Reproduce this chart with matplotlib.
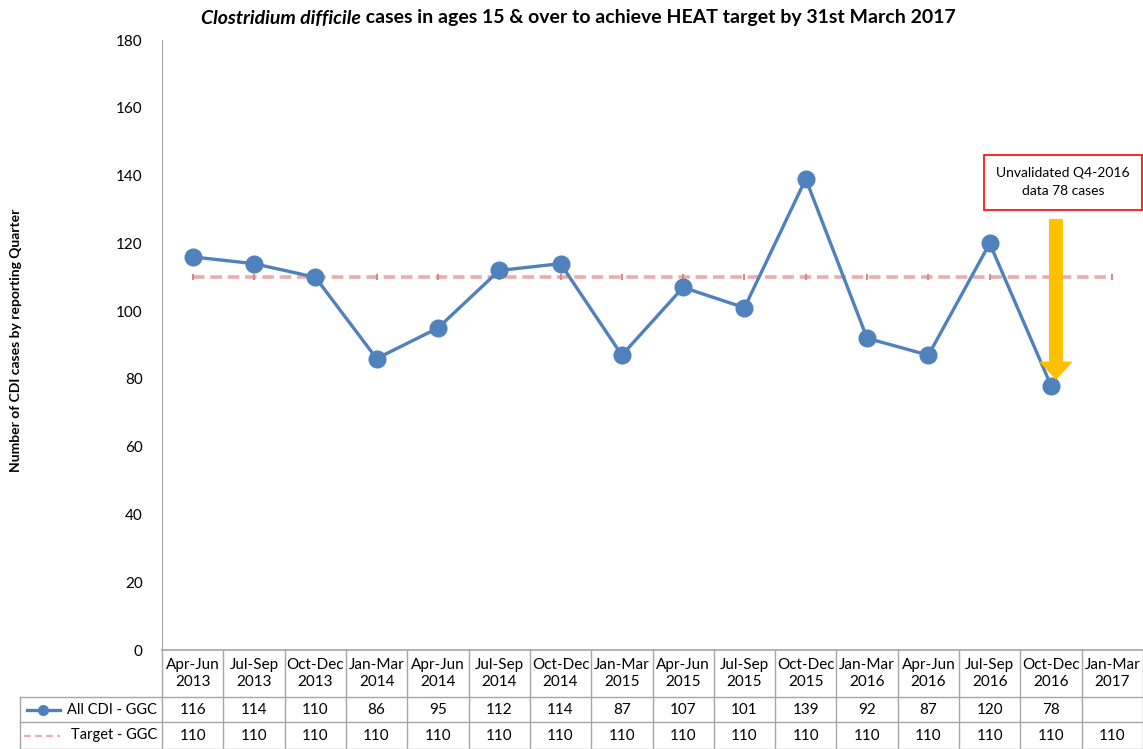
import matplotlib.pyplot as plt
import numpy as np

plt.rcParams['font.family'] = ['Lato', 'DejaVu Sans']

quarters = ['Apr-Jun\n2013', 'Jul-Sep\n2013', 'Oct-Dec\n2013', 'Jan-Mar\n2014',
            'Apr-Jun\n2014', 'Jul-Sep\n2014', 'Oct-Dec\n2014', 'Jan-Mar\n2015',
            'Apr-Jun\n2015', 'Jul-Sep\n2015', 'Oct-Dec\n2015', 'Jan-Mar\n2016',
            'Apr-Jun\n2016', 'Jul-Sep\n2016', 'Oct-Dec\n2016', 'Jan-Mar\n2017']
all_cdi = [116, 114, 110, 86, 95, 112, 114, 87, 107, 101, 139, 92, 87, 120, 78, None]
target = [110] * 16

blue = '#4F81BD'
pink = '#E8AEAC'
grid_col = '#A6A6A6'

W, H = 1143, 749
fig = plt.figure(figsize=(W / 100, H / 100), dpi=100)

def fx(px):
    return px / W

def fy(py):
    return 1 - py / H

# main chart area
ax = fig.add_axes([fx(162), fy(650), fx(W - 162), fy(40) - fy(650)])
x = np.arange(len(quarters))
cdi_x = [i for i, v in enumerate(all_cdi) if v is not None]
cdi_y = [v for v in all_cdi if v is not None]

ax.plot(x, target, color=pink, lw=2.6, dashes=(3.2, 1.6), zorder=2)
ax.plot(x, target, ls='none', marker='|', ms=4, mew=1.5, color='#D08A88', zorder=2)
ax.plot(cdi_x, cdi_y, color=blue, lw=2.4, marker='o', ms=12, zorder=3)

ax.set_xlim(-0.5, len(quarters) - 0.5)
ax.set_ylim(0, 180)
ax.set_yticks(range(0, 181, 20))
ax.tick_params(axis='y', length=0, pad=14, labelsize=11)
ax.set_xticks([])
for s in ['top', 'right', 'bottom']:
    ax.spines[s].set_visible(False)
ax.spines['left'].set_color(grid_col)

# annotation box and arrow
ax.annotate('', xy=(14.08, 80), xytext=(14.08, 127),
            arrowprops=dict(facecolor='#FFC000', edgecolor='#FFC000',
                            width=9, headwidth=22, headlength=12))
fig.text(fx(1063), fy(182), 'Unvalidated Q4-2016\ndata 78 cases', ha='center', va='center',
         fontsize=10, linespacing=1.6,
         bbox=dict(boxstyle='square,pad=0.9', fc='white', ec='#FF0000', lw=1.2))

fig.text(fx(16), fy(340), 'Number of CDI cases by reporting Quarter', rotation=90,
         ha='center', va='center', fontsize=10, fontweight='bold')

# data table below the chart
axt = fig.add_axes([fx(162), 0, fx(W - 162), fy(650)])
axt.set_xlim(-0.5, len(quarters) - 0.5)
axt.set_ylim(99, 0)
axt.axis('off')
rows = [0, 47, 72, 99]
for i, q in enumerate(quarters):
    axt.text(i, 23.5, q, ha='center', va='center', fontsize=11, linespacing=1.3)
    if all_cdi[i] is not None:
        axt.text(i, 59.5, str(all_cdi[i]), ha='center', va='center', fontsize=11)
    axt.text(i, 85.5, str(target[i]), ha='center', va='center', fontsize=11)
for b in np.arange(-0.5, len(quarters), 1):
    axt.plot([b, b], [0, 99], color=grid_col, lw=1, clip_on=False)
axt.plot([-0.5, len(quarters) - 0.5], [0, 0], color=grid_col, lw=1.2, clip_on=False)
left_x = -0.5 - (162 - 20) / ((W - 162) / len(quarters))
for r in rows[1:]:
    axt.plot([left_x, len(quarters) - 0.5], [r, r], color=grid_col, lw=1, clip_on=False)
axt.plot([left_x, left_x], [47, 99], color=grid_col, lw=1, clip_on=False)

# legend keys in the table
unit = (W - 162) / len(quarters)
def px2x(px):
    return -0.5 + (px - 162) / unit
axt.plot([px2x(27), px2x(60)], [59.5, 59.5], color=blue, lw=2.4, clip_on=False)
axt.plot([px2x(43.5)], [59.5], marker='o', ms=7, color=blue, clip_on=False)
axt.plot([px2x(24), px2x(60)], [85.5, 85.5], color=pink, lw=1.6, dashes=(3, 2), clip_on=False)
axt.text(px2x(157), 59.5, 'All CDI - GGC', ha='right', va='center', fontsize=10.5)
axt.text(px2x(157), 85.5, 'Target - GGC', ha='right', va='center', fontsize=10.5)

# title with italic part
fig.canvas.draw()
r = fig.canvas.get_renderer()
t1 = fig.text(0, fy(18), 'Clostridium difficile', fontsize=14, fontweight='bold',
              style='italic', va='center', ha='left')
t2 = fig.text(0, fy(18), ' cases in ages 15 & over to achieve HEAT target by 31st March 2017',
              fontsize=14, fontweight='bold', va='center', ha='left')
w1 = t1.get_window_extent(r).width
w2 = t2.get_window_extent(r).width
start = 578 - (w1 + w2) / 2
t1.set_x(fx(start))
t2.set_x(fx(start + w1))

fig.savefig('out.png', dpi=100)
